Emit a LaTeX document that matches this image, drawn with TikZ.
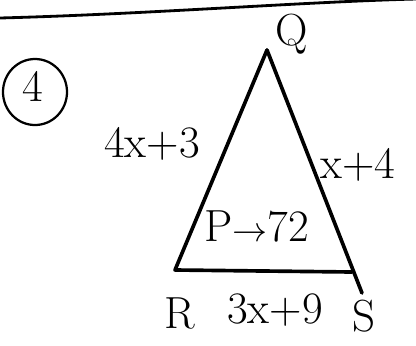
\documentclass[tikz,border=0pt]{standalone}
\usepackage{amsmath}
\usetikzlibrary{shapes,shapes.misc}

\begin{document}
\begin{tikzpicture}[x=0.025cm,y=-0.025cm,
      line cap=round,line join=round,
      side/.style={line width=2.6pt},
      every node/.append style={font=\fontsize{32}{36}\selectfont,inner sep=0pt}]
    \useasboundingbox (0,0) rectangle (416,345);
    % rule at the top of the page
    \draw [line width=2pt] (0,18) .. controls (150,14) and (300,2) .. (416,-1);
    % question number
    \node (num) at (33,86) {4};
    \node (numring) [draw=black,ellipse,line width=1.6pt,
      minimum width=1.6cm,minimum height=1.65cm] at (35,92) {};
    % triangle
    \coordinate (Q) at (267,50);
    \coordinate (R) at (175,270);
    \coordinate (S) at (352,272);
    \coordinate (Send) at (362,293);
    \draw [side] (Q) -- (R) -- (S);
    \draw [side] (Q) -- (Send);
    % vertex and side labels
    \node (labQ) at (292,34) {Q};
    \node (labR) at (180,313) {R};
    \node (labS) at (364,316) {S};
    \node (left) at (152,144) {4x+3};
    \node (right) at (358,165) {x+4};
    \node (bottom) at (275,310) {3x+9};
    \node (perim) at (257,226) {P$\to$72};
\end{tikzpicture}
\end{document}
